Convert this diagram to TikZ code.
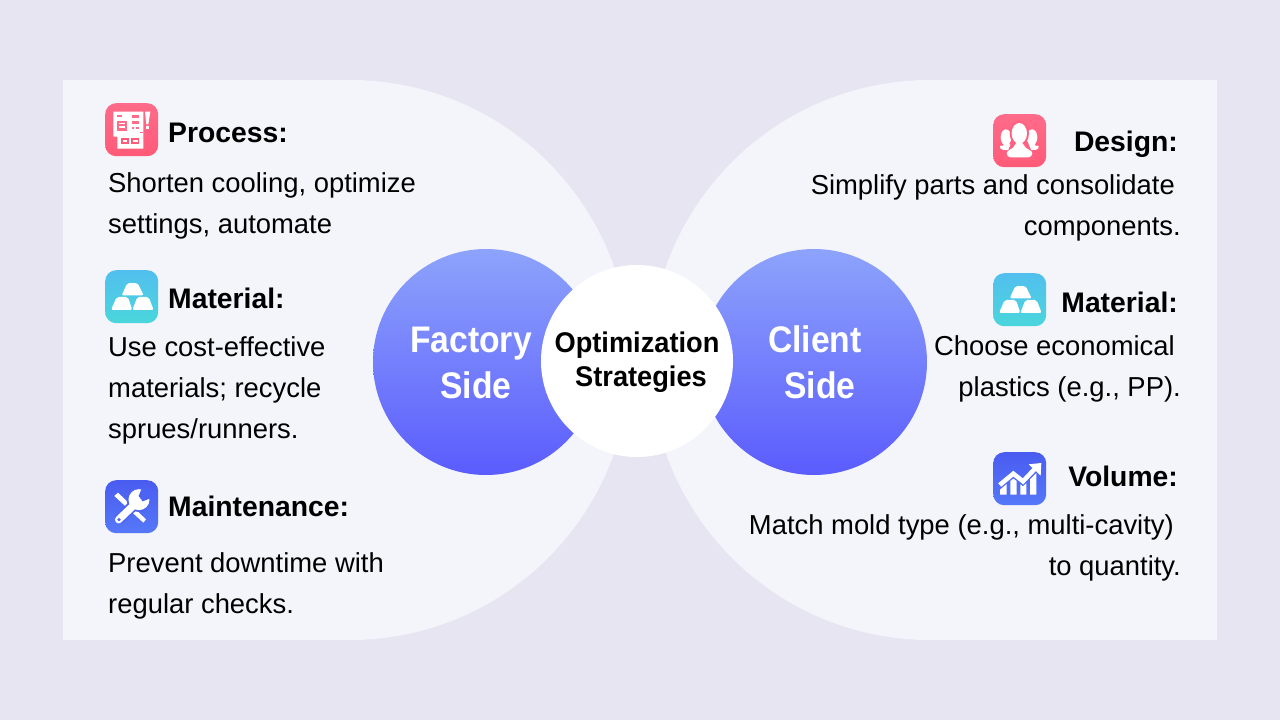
\documentclass[tikz,border=0pt]{standalone}
\usepackage{fontspec}
\setmainfont{Liberation Sans}
\definecolor{bgc}{HTML}{E6E5F1}
\definecolor{panelc}{HTML}{F3F5FA}
\definecolor{pinkA}{HTML}{FF6B8A}
\definecolor{pinkB}{HTML}{FF5A78}
\definecolor{tealA}{HTML}{52BFEE}
\definecolor{tealB}{HTML}{4AD6DC}
\definecolor{blueA}{HTML}{4A5CF0}
\definecolor{blueB}{HTML}{5578F8}
\definecolor{discA}{HTML}{8DA3FB}
\definecolor{discB}{HTML}{5B5CFD}
\tikzset{
  body/.style={font=\fontsize{27.4}{27.4}\selectfont,inner sep=0pt,text=black},
  head/.style={font=\fontsize{28.3}{28.3}\selectfont\bfseries,inner sep=0pt,text=black},
  disc/.style={circle,minimum size=226pt,inner sep=0pt,shade,top color=discA,bottom color=discB},
  disclab/.style={font=\fontsize{37}{37}\selectfont\bfseries,inner sep=0pt,text=white,xscale=0.91},
  hub/.style={font=\fontsize{28.5}{28.5}\selectfont\bfseries,inner sep=0pt,text=black,xscale=0.955},
  iconbox/.style={rectangle,rounded corners=11pt,minimum size=53pt,inner sep=0pt,anchor=north west},
  pinkbox/.style={iconbox,shade,top color=pinkA,bottom color=pinkB},
  tealbox/.style={iconbox,shade,top color=tealA,bottom color=tealB},
  bluebox/.style={iconbox,shade,top color=blueA,bottom color=blueB},
  zoomed/.style={x=0.3333pt,y=-0.3333pt},
}
\newcommand{\goldbars}{%
  \fill[white,rounded corners=2pt] (112,69)--(143,69)--(161,106)--(95,106)--cycle;
  \fill[white,rounded corners=2pt] (80,111)--(114,111)--(127,150)--(63,150)--cycle;
  \fill[white,rounded corners=2pt] (142,111)--(176,111)--(191,150)--(127,150)--cycle;
}
\begin{document}
\begin{tikzpicture}[x=1pt,y=-1pt]
\useasboundingbox (0,0) rectangle (1280,720);
\fill[bgc] (0,0) rectangle (1280,720);
% panels
\fill[panelc] (63,80) rectangle (350,640);
\fill[panelc] (350,360) circle (280pt);
\fill[panelc] (930,80) rectangle (1217,640);
\fill[panelc] (930,360) circle (280pt);
% discs
\node[disc] (factory) at (486,362) {};
\node[disc] (client) at (814,362) {};
\node[circle,fill=white,minimum size=192pt,inner sep=0pt] (hub) at (637,361) {};
\node[disclab,anchor=base] (f1) at (471,352) {Factory};
\node[disclab,anchor=base] (f2) at (476,398) {Side};
\node[disclab,anchor=base] (c1) at (815,352) {Client};
\node[disclab,anchor=base] (c2) at (820,398) {Side};
\node[hub,anchor=base] (h1) at (637,352) {Optimization};
\node[hub,anchor=base] (h2) at (641,386) {Strategies};
% left text
\node[head,anchor=base west] (t1) at (168,142) {Process:};
\node[body,anchor=base west] (t2) at (108,192) {Shorten cooling, optimize};
\node[body,anchor=base west] (t3) at (108,233) {settings, automate};
\node[head,anchor=base west] (t4) at (168,308) {Material:};
\node[body,anchor=base west] (t5) at (108,356) {Use cost-effective};
\node[body,anchor=base west] (t6) at (108,397) {materials; recycle};
\node[body,anchor=base west] (t7) at (108,438) {sprues/runners.};
\node[head,anchor=base west] (t8) at (168,516) {Maintenance:};
\node[body,anchor=base west] (t9) at (108,572) {Prevent downtime with};
\node[body,anchor=base west] (t10) at (108,613) {regular checks.};
% right text
\node[head,anchor=base east] (r1) at (1178,151) {Design:};
\node[body,anchor=base east] (r2) at (1175,194) {Simplify parts and consolidate};
\node[body,anchor=base east] (r3) at (1181,235) {components.};
\node[head,anchor=base east] (r4) at (1178,312) {Material:};
\node[body,anchor=base east] (r5) at (1175,355) {Choose economical};
\node[body,anchor=base east] (r6) at (1181,396) {plastics (e.g., PP).};
\node[head,anchor=base east] (r7) at (1178,486) {Volume:};
\node[body,anchor=base east] (r8) at (1174,534) {Match mold type (e.g., multi-cavity)};
\node[body,anchor=base east] (r9) at (1181,575) {to quantity.};
% icon boxes
\node[pinkbox] (i1) at (105,103) {};
\node[tealbox] (i2) at (105,270) {};
\node[bluebox] (i3) at (105,480) {};
\node[pinkbox] (i4) at (993,114) {};
\node[tealbox] (i5) at (993,273) {};
\node[bluebox] (i6) at (993,452) {};
% process icon
\begin{scope}[shift={(90,90)},zoomed]
  \fill[white] (70,65)--(160,65)--(160,140)--(160,176)--(82,176)--(82,140)--(70,140)--cycle;
  \fill[white] (165,65)--(181,65)--(175,103)--(169,103)--cycle;
  \fill[white] (167,108) rectangle (178,118);
  \fill[pinkA] (82,76) rectangle (95,80);
  \fill[pinkA] (80,92) rectangle (110,122);
  \fill[white] (86,98) rectangle (104,103);
  \fill[white] (86,108) rectangle (104,113);
  \fill[pinkA] (125,74) rectangle (148,85);
  \fill[pinkA] (125,92) rectangle (148,102);
  \fill[pinkA] (125,112) rectangle (133,117);
  \fill[pinkA] (138,112) rectangle (148,117);
  \fill[pinkA] (150,125) rectangle (160,130);
  \fill[pinkB] (94,144) rectangle (116,162);
  \fill[white] (99,150) rectangle (111,157);
  \fill[pinkB] (124,144) rectangle (148,162);
  \fill[white] (129,150) rectangle (143,157);
\end{scope}
% gold bars
\begin{scope}[shift={(90,260)},zoomed]\goldbars\end{scope}
\begin{scope}[shift={(978,263)},zoomed]\goldbars\end{scope}
% tools icon
\begin{scope}[shift={(90,470)},zoomed]
  \fill[white] (73,78)--(84,68)--(168,148)--(160,158)--cycle;
  \draw[blueA!70!blueB,line width=11pt] (85,150)--(145,92);
  \fill[blueA!70!blueB] (146,90) circle (12pt);
  \draw[white,line width=7.5pt,line cap=round] (86,149)--(135,102);
  \fill[white] (147,89) circle (10.5pt);
  \fill[blueA!70!blueB] (154,58)--(184,56)--(184,84)--(158,94)--(146,78)--cycle;
  \fill[blueA!70!blueB] (87,149) circle (1.8pt);
\end{scope}
% people icon
\begin{scope}[shift={(980,105)},zoomed]
  \fill[white] (78,97) ellipse (16 and 24);
  \fill[white] (156,97) ellipse (16 and 24);
  \fill[white,rounded corners=4pt] (57,134) .. controls (60,122) and (68,122) .. (72,112)--(88,112)--(102,136)--cycle;
  \fill[white,rounded corners=4pt] (134,136)--(148,112)--(164,112) .. controls (168,122) and (176,122) .. (179,134)--cycle;
  \fill[pinkA!50!pinkB] (118,85) ellipse (29 and 38);
  \fill[pinkA!50!pinkB] (72,165)--(92,118)--(146,118)--(166,165)--cycle;
  \fill[white] (118,85) ellipse (23 and 31);
  \fill[white,rounded corners=4pt] (80,157) .. controls (80,135) and (100,132) .. (105,112)--(131,112) .. controls (136,132) and (157,135) .. (157,157)--cycle;
\end{scope}
% volume icon
\begin{scope}[shift={(980,445)},zoomed]
  \draw[white,line width=4.5pt] (59,120)--(100,86)--(129,109)--(166,70);
  \fill[white] (146,58)--(184,54)--(182,92)--cycle;
  \fill[white] (60,149)--(60,134)--(80,117)--(80,149)--cycle;
  \fill[white] (91,149)--(91,108)--(100,101)--(110,108)--(110,149)--cycle;
  \fill[white] (121,149)--(121,118)--(129,124)--(139,115)--(139,149)--cycle;
  \fill[white] (150,149)--(150,103)--(169,84)--(169,149)--cycle;
\end{scope}
\end{tikzpicture}
\end{document}
